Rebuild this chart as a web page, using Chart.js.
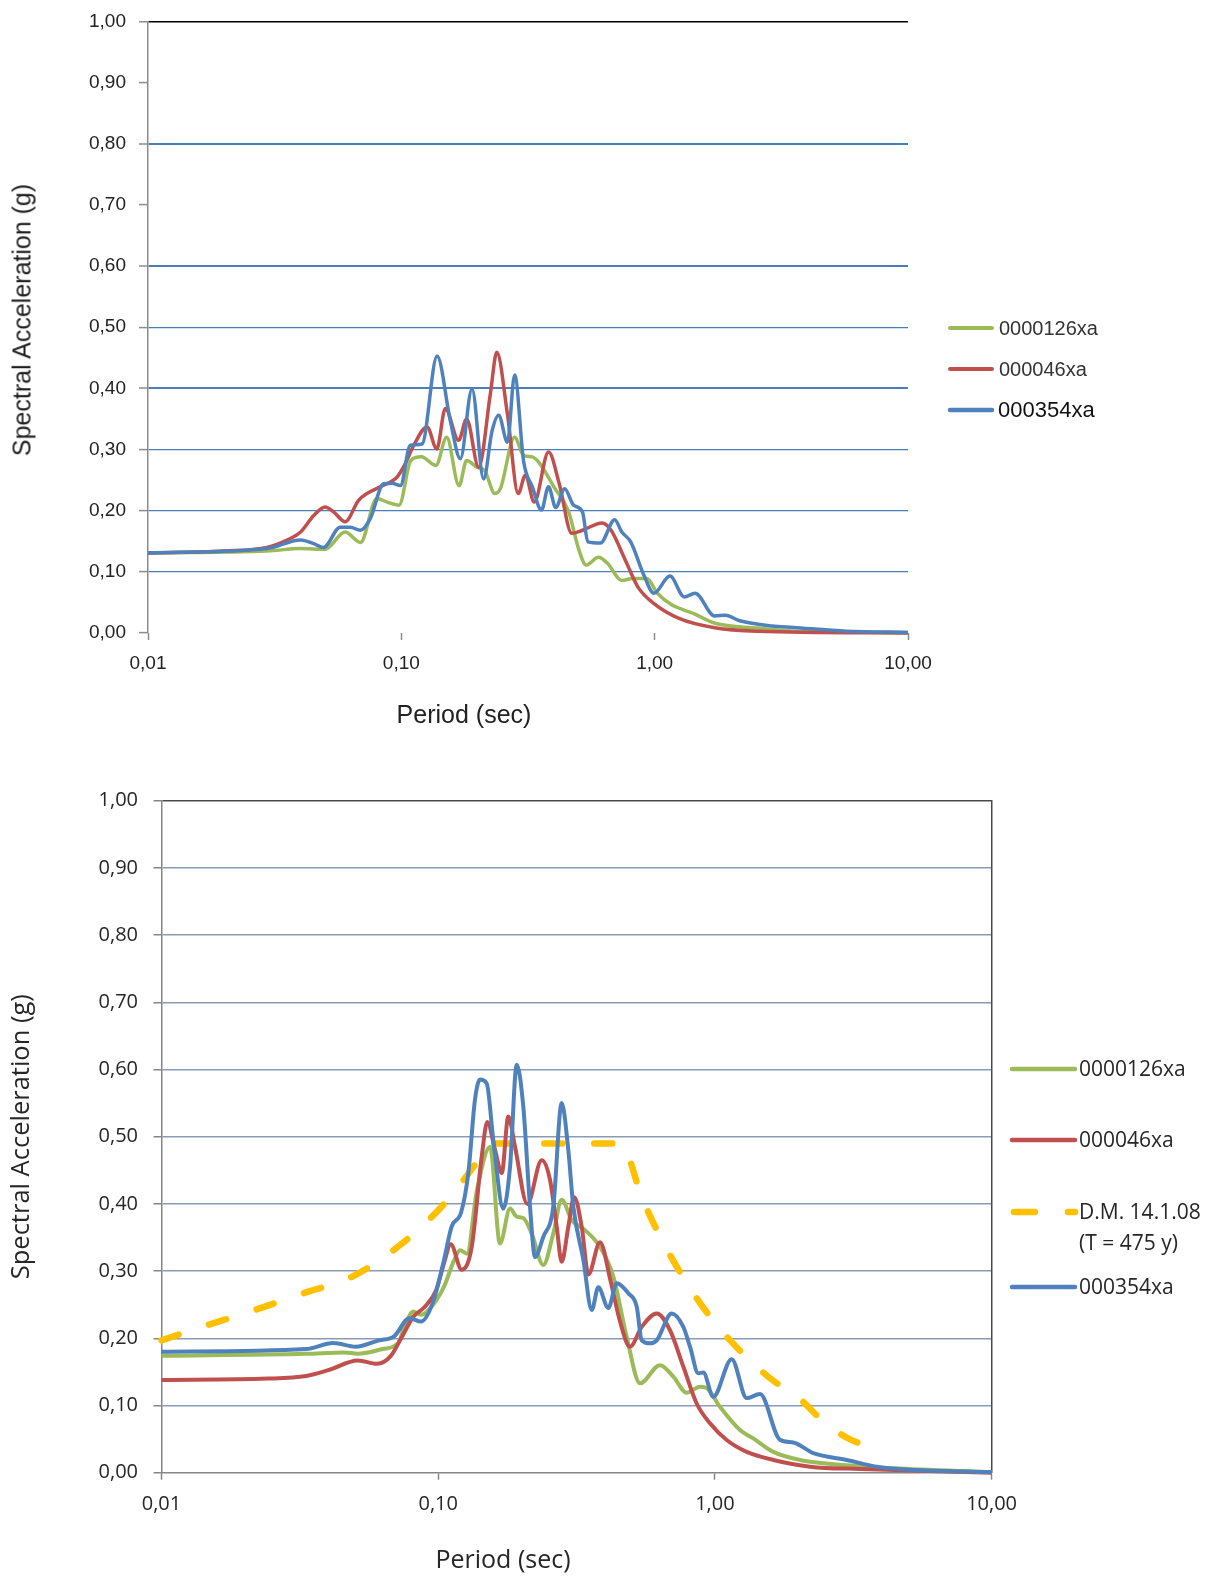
<!DOCTYPE html>
<html><head><meta charset="utf-8">
<script src="https://cdn.jsdelivr.net/npm/chart.js@4.4.1/dist/chart.umd.min.js"></script>
<style>
html,body{margin:0;padding:0;background:#fff;}
#page{position:relative;width:1217px;height:1576px;overflow:hidden;background:#fff;}
canvas{position:absolute;left:0;}
.t{position:absolute;white-space:nowrap;line-height:1;}
.top{font-family:"Liberation Sans",Arial,sans-serif;color:#222;}
.bot{font-family:"Open Sans","Noto Sans",sans-serif;color:#262626;}
svg{position:absolute;left:0;top:0;overflow:visible;}
</style></head><body><div id="page">
<canvas id="cTop" width="1217" height="760" style="top:-3px;width:1217px;height:760px"></canvas>
<canvas id="cBot" width="1217" height="806" style="top:770px;width:1217px;height:806px"></canvas>

<div class="t top" style="left:22px;top:320px;font-size:25px;color:#1f1f1f;transform:translate(-50%,-50%) rotate(-90deg)">Spectral Acceleration (g)</div>
<div class="t top" style="left:464px;top:702px;font-size:25px;transform:translateX(-50%)">Period (sec)</div>
<div class="t bot" style="left:503px;top:1546px;font-size:25px;transform:translateX(-50%)">Period (sec)</div>

<svg width="1217" height="1576">
  <line x1="950" y1="328" x2="992" y2="328" stroke="#9BBB59" stroke-width="4" stroke-linecap="round"/>
  <line x1="950" y1="369" x2="992" y2="369" stroke="#C0504D" stroke-width="4" stroke-linecap="round"/>
  <line x1="950" y1="410" x2="992" y2="410" stroke="#4F81BD" stroke-width="4.5" stroke-linecap="round"/>
  <line x1="1012" y1="1069" x2="1075" y2="1069" stroke="#9BBB59" stroke-width="4.5" stroke-linecap="round"/>
  <line x1="1012" y1="1140" x2="1075" y2="1140" stroke="#C0504D" stroke-width="4.5" stroke-linecap="round"/>
  <line x1="1014" y1="1212" x2="1075" y2="1212" stroke="#FFC000" stroke-width="6.5" stroke-linecap="round" stroke-dasharray="21 33"/>
  <line x1="1012" y1="1287" x2="1075" y2="1287" stroke="#4F81BD" stroke-width="4.5" stroke-linecap="round"/>
</svg>
<div class="t top" style="left:999px;top:318px;font-size:20px;color:#333">0000126xa</div>
<div class="t top" style="left:999px;top:359px;font-size:20px;color:#333">000046xa</div>
<div class="t top" style="left:998px;top:399px;font-size:22px;color:#111">000354xa</div>
<div class="t bot" style="left:1079px;top:1058px;font-size:21px">0000126xa</div>
<div class="t bot" style="left:1079px;top:1129px;font-size:21px">000046xa</div>
<div class="t bot" style="left:1079px;top:1201px;font-size:21px">D.M. 14.1.08</div>
<div class="t bot" style="left:1079px;top:1232px;font-size:21px">(T = 475 y)</div>
<div class="t bot" style="left:1079px;top:1276px;font-size:21px">000354xa</div>
</div>
<script>
// ---------- shared axis ticks ----------
const xTickValues = [0.01, 0.1, 1, 10];
const xTickLabels = ['0,01', '0,10', '1,00', '10,00'];
const yTickLabels = ['0,00','0,10','0,20','0,30','0,40','0,50','0,60','0,70','0,80','0,90','1,00'];

// ---------- TOP chart data (period s, Sa g) ----------
const topGreenT  = [0.01, 0.0295, 0.040, 0.050, 0.060, 0.069, 0.080, 0.088, 0.098, 0.109, 0.120, 0.137, 0.151, 0.169, 0.181, 0.199, 0.213, 0.234, 0.246, 0.280, 0.304, 0.329, 0.352, 0.400, 0.456, 0.503, 0.536, 0.600, 0.651, 0.742, 0.817, 0.931, 1.025, 1.168, 1.42, 1.73, 2.54, 3.53, 10];
const topGreenSa = [0.131, 0.134, 0.138, 0.137, 0.165, 0.148, 0.220, 0.214, 0.209, 0.282, 0.288, 0.274, 0.320, 0.241, 0.282, 0.271, 0.266, 0.228, 0.236, 0.320, 0.290, 0.288, 0.277, 0.239, 0.200, 0.135, 0.111, 0.124, 0.114, 0.086, 0.089, 0.089, 0.065, 0.046, 0.032, 0.016, 0.008, 0.003, 0.001];

const topRedT  = [0.01, 0.02, 0.0295, 0.0354, 0.040, 0.0451, 0.050, 0.054, 0.060, 0.0678, 0.0732, 0.0826, 0.0962, 0.1037, 0.112, 0.1264, 0.138, 0.1492, 0.1683, 0.181, 0.202, 0.2246, 0.2381, 0.2623, 0.2894, 0.3087, 0.3347, 0.3812, 0.4201, 0.4707, 0.5188, 0.6205, 0.673, 0.766, 0.858, 0.994, 1.247, 1.726, 2.544, 10];
const topRedSa = [0.131, 0.134, 0.140, 0.152, 0.165, 0.192, 0.206, 0.198, 0.182, 0.217, 0.228, 0.239, 0.255, 0.277, 0.307, 0.337, 0.301, 0.367, 0.315, 0.350, 0.271, 0.391, 0.459, 0.358, 0.228, 0.258, 0.214, 0.296, 0.244, 0.163, 0.168, 0.180, 0.168, 0.119, 0.0755, 0.048, 0.024, 0.0087, 0.003, 0.0];

const topBlueT  = [0.01, 0.0295, 0.040, 0.0451, 0.0493, 0.0574, 0.0629, 0.0689, 0.0754, 0.0851, 0.0919, 0.0991, 0.1085, 0.1207, 0.1384, 0.1561, 0.171, 0.1901, 0.2113, 0.228, 0.2422, 0.2623, 0.280, 0.304, 0.329, 0.3573, 0.381, 0.407, 0.4413, 0.4785, 0.519, 0.5448, 0.6105, 0.6953, 0.742, 0.8045, 0.9016, 0.994, 1.149, 1.309, 1.443, 1.726, 1.902, 2.166, 2.90, 3.526, 5.73, 10];
const topBlueSa = [0.131, 0.138, 0.152, 0.146, 0.140, 0.173, 0.173, 0.168, 0.187, 0.244, 0.245, 0.241, 0.307, 0.309, 0.453, 0.347, 0.285, 0.399, 0.252, 0.330, 0.356, 0.312, 0.422, 0.280, 0.239, 0.201, 0.239, 0.205, 0.236, 0.209, 0.198, 0.149, 0.147, 0.185, 0.165, 0.149, 0.097, 0.065, 0.093, 0.059, 0.065, 0.028, 0.029, 0.020, 0.0114, 0.009, 0.003, 0.001];

// ---------- BOTTOM chart data ----------
const botGreenT  = [0.01, 0.0333, 0.0458, 0.0512, 0.063, 0.0716, 0.0763, 0.0813, 0.0867, 0.0923, 0.105, 0.1136, 0.12, 0.127, 0.138, 0.154, 0.1672, 0.1818, 0.1922, 0.203, 0.2177, 0.2398, 0.2606, 0.2794, 0.3037, 0.3393, 0.3843, 0.4294, 0.48, 0.5362, 0.6333, 0.7074, 0.7907, 0.8834, 0.934, 1.043, 1.232, 1.376, 1.626, 2.03, 2.911, 4.413, 10];
const botGreenSa = [0.174, 0.177, 0.179, 0.177, 0.184, 0.193, 0.222, 0.240, 0.235, 0.242, 0.277, 0.314, 0.331, 0.326, 0.420, 0.485, 0.341, 0.393, 0.381, 0.379, 0.356, 0.309, 0.356, 0.406, 0.376, 0.361, 0.336, 0.292, 0.202, 0.133, 0.160, 0.143, 0.119, 0.128, 0.126, 0.098, 0.0635, 0.051, 0.031, 0.019, 0.0115, 0.0065, 0.001];

const botRedT  = [0.01, 0.0242, 0.0333, 0.0403, 0.0512, 0.0601, 0.0672, 0.0739, 0.0813, 0.0895, 0.0984, 0.105, 0.111, 0.1216, 0.1322, 0.1436, 0.1505, 0.1605, 0.1697, 0.1792, 0.1895, 0.2099, 0.2366, 0.2535, 0.2681, 0.2794, 0.2953, 0.31, 0.3301, 0.349, 0.3843, 0.42, 0.454, 0.4934, 0.5439, 0.6163, 0.6882, 0.7688, 0.8593, 0.9601, 1.103, 1.303, 1.626, 2.207, 3.345, 10];
const botRedSa = [0.138, 0.140, 0.144, 0.153, 0.167, 0.162, 0.173, 0.202, 0.232, 0.247, 0.272, 0.312, 0.340, 0.302, 0.336, 0.470, 0.522, 0.480, 0.446, 0.530, 0.485, 0.400, 0.465, 0.436, 0.366, 0.314, 0.366, 0.410, 0.366, 0.295, 0.343, 0.285, 0.225, 0.1875, 0.217, 0.237, 0.212, 0.158, 0.103, 0.0735, 0.0487, 0.031, 0.019, 0.009, 0.0055, 0.0];

const botDmT  = [0.01, 0.014, 0.021, 0.032, 0.049, 0.074, 0.104, 0.134, 0.153, 0.25, 0.35, 0.455, 0.55, 0.65, 0.8, 1.0, 1.3, 1.6, 2.0, 2.5, 3.0, 3.5];
const botDmSa = [0.197, 0.217, 0.240, 0.266, 0.292, 0.341, 0.398, 0.455, 0.490, 0.490, 0.490, 0.490, 0.405, 0.343, 0.279, 0.223, 0.172, 0.139, 0.112, 0.074, 0.052, 0.040];

const botBlueT  = [0.01, 0.0333, 0.0417, 0.0504, 0.0611, 0.0693, 0.0787, 0.0867, 0.0954, 0.105, 0.1118, 0.1211, 0.1285, 0.1358, 0.1416, 0.1498, 0.1582, 0.1719, 0.1818, 0.1922, 0.203, 0.2147, 0.2238, 0.2398, 0.2606, 0.2794, 0.2953, 0.3078, 0.3346, 0.3588, 0.379, 0.4119, 0.4418, 0.4864, 0.5218, 0.5439, 0.5829, 0.6163, 0.6982, 0.7688, 0.8128, 0.871, 0.9081, 0.9868, 1.15, 1.303, 1.455, 1.719, 1.92, 2.268, 2.994, 3.843, 5.278, 10];
const botBlueSa = [0.180, 0.184, 0.193, 0.1875, 0.197, 0.203, 0.230, 0.225, 0.252, 0.317, 0.366, 0.388, 0.446, 0.555, 0.585, 0.579, 0.495, 0.393, 0.455, 0.607, 0.545, 0.396, 0.321, 0.351, 0.396, 0.550, 0.480, 0.396, 0.317, 0.242, 0.276, 0.245, 0.282, 0.267, 0.247, 0.197, 0.1925, 0.197, 0.237, 0.217, 0.1875, 0.148, 0.149, 0.113, 0.169, 0.111, 0.117, 0.049, 0.045, 0.029, 0.019, 0.009, 0.004, 0.001];

// ---------- helpers ----------
function pairs(T, S) { return T.map((t, i) => ({x: t, y: S[i]})); }
function series(label, T, S, color, width, order, dash) {
  return {
    label, data: pairs(T, S), borderColor: color, backgroundColor: color,
    borderWidth: width, pointRadius: 0, pointHoverRadius: 0, fill: false,
    cubicInterpolationMode: 'monotone', order, clip: 6,
    borderDash: dash || [], borderCapStyle: dash ? 'round' : 'butt', borderJoinStyle: 'round'
  };
}

function makeOptions(cfg) {
  return {
    responsive: false, maintainAspectRatio: false, animation: false, devicePixelRatio: 1,
    layout: { padding: cfg.padding },
    plugins: { legend: { display: false }, tooltip: { enabled: false }, title: { display: false } },
    events: [],
    scales: Object.assign({
      x: {
        type: 'logarithmic', min: 0.01, max: 10,
        afterBuildTicks: (s) => { s.ticks = xTickValues.map(v => ({ value: v })); },
        afterFit: (s) => { s.height = cfg.xHeight; },
        ticks: {
          autoSkip: false, maxRotation: 0, minRotation: 0, padding: cfg.xPad,
          color: cfg.tickColor, font: { family: cfg.family, size: cfg.tickSize },
          callback: (v, i) => xTickLabels[i]
        },
        grid: { drawOnChartArea: false, drawTicks: true, tickLength: 7, tickColor: cfg.axisColor, tickWidth: 1.5, color: cfg.axisColor },
        border: { display: cfg.xBorder, color: cfg.axisColor, width: 1.5 }
      },
      y: {
        type: 'linear', min: 0, max: 1,
        afterFit: (s) => { s.width = cfg.yWidth; },
        ticks: {
          stepSize: 0.1, padding: cfg.yPad, color: cfg.tickColor,
          font: { family: cfg.family, size: cfg.tickSize },
          callback: (v, i) => yTickLabels[i]
        },
        grid: {
          color: cfg.gridColor, lineWidth: cfg.gridWidth,
          tickLength: cfg.yTick, tickColor: cfg.axisColor, tickWidth: 1.5
        },
        border: { display: true, color: cfg.axisColor, width: 1.5 },
        title: {
          display: cfg.yTitle, text: 'Spectral Acceleration (g)', color: cfg.titleColor,
          font: { family: cfg.family, size: cfg.titleSize, lineHeight: 1.2 },
          padding: { top: cfg.titlePad, bottom: 0 }
        }
      }
    }, cfg.extraScales || {})
  };
}

// ---------- TOP chart ----------
new Chart(document.getElementById('cTop'), {
  type: 'line',
  data: { datasets: [
    series('0000126xa', topGreenT, topGreenSa, '#9BBB59', 3.5, 2),
    series('000046xa', topRedT, topRedSa, '#C0504D', 3.5, 1),
    series('000354xa', topBlueT, topBlueSa, '#4F81BD', 3.5, 0)
  ]},
  options: makeOptions({
    padding: { left: 0, top: 17, right: 309, bottom: 0 },
    family: '"Liberation Sans", Arial, sans-serif', tickSize: 19, titleSize: 25, titlePad: 7.6, yTitle: false,
    tickColor: '#222', titleColor: '#1f1f1f', axisColor: '#8c8c8c',
    xHeight: 124, xPad: 12, xBorder: false,
    yWidth: 148, yPad: 13, yTick: 9,
    gridColor: (c) => c.index === 10 ? '#000000' : ((c.index === 0 || c.index === 7 || c.index === 9) ? 'rgba(0,0,0,0)' : '#4a7ebb'),
    gridWidth: (c) => (c.index === 4 || c.index === 6 || c.index === 8) ? 2 : (c.index === 10 ? 1.5 : 1.2)
  })
});

// ---------- BOTTOM chart ----------
new Chart(document.getElementById('cBot'), {
  type: 'line',
  data: { datasets: [
    series('0000126xa', botGreenT, botGreenSa, '#9BBB59', 4, 2),
    series('000046xa', botRedT, botRedSa, '#C0504D', 4, 1),
    series('D.M. 14.1.08 (T = 475 y)', botDmT, botDmSa, '#FFC000', 6.5, 3, [18, 32]),
    series('000354xa', botBlueT, botBlueSa, '#4F81BD', 4, 0)
  ]},
  options: makeOptions({
    padding: { left: 0, top: 30.7, right: 225.4, bottom: 0 },
    family: '"Open Sans", "Noto Sans", sans-serif', tickSize: 20, titleSize: 25.5, titlePad: 6.7, yTitle: true,
    tickColor: '#262626', titleColor: '#262626', axisColor: '#868686',
    xHeight: 103.3, xPad: 13, xBorder: true,
    yWidth: 161.5, yPad: 15.5, yTick: 8,
    gridColor: (c) => c.index === 10 ? '#4a4a4a' : (c.index === 0 ? 'rgba(0,0,0,0)' : '#8a9bb4'),
    gridWidth: 1.5,
    extraScales: {
      y2: {
        type: 'linear', position: 'right', display: true, min: 0, max: 1,
        afterFit: (s) => { s.width = 0; },
        ticks: { display: false },
        grid: { display: false, drawTicks: false },
        border: { display: true, color: '#4a4a4a', width: 1.5 }
      }
    }
  })
});
</script>
</body></html>
